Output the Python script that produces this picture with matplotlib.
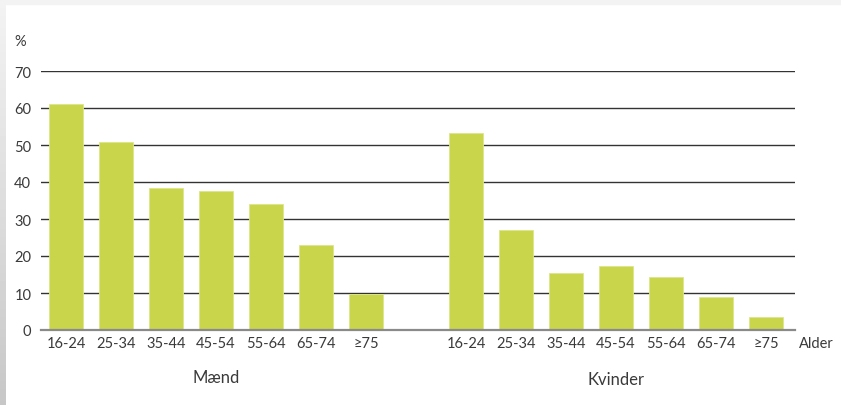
import matplotlib.pyplot as plt
import matplotlib.patches as mpatches
import numpy as np

# age groups and shares (%)
age_groups = ["16-24", "25-34", "35-44", "45-54", "55-64", "65-74", "≥75"]
men = [61.1, 50.8, 38.5, 37.5, 34.0, 23.0, 9.7]
women = [53.2, 27.0, 15.3, 17.2, 14.3, 8.8, 3.5]

bar_color = "#c9d54b"
text_color = "#3a3a3a"
plt.rcParams['font.family'] = ['Lato', 'DejaVu Sans']

fig = plt.figure(figsize=(8.41, 4.06), dpi=100)
fig.patch.set_facecolor("white")

# light grey frame strips like the page background
fig.patches.append(mpatches.Rectangle((0, 1 - 5 / 406), 1, 5 / 406, transform=fig.transFigure,
                                      color="#f3f3f3", zorder=0))
grad = np.linspace(0.95, 0.78, 100).reshape(-1, 1)
bg = fig.add_axes([0, 0, 6 / 841, 1 - 5 / 406])
bg.imshow(grad, cmap="gray", vmin=0, vmax=1, aspect="auto", extent=[0, 1, 0, 1])
bg.axis("off")

ax = fig.add_axes([41 / 841, 75 / 406, 754 / 841, 259 / 406])

x_men = np.arange(len(age_groups))
x_women = x_men + len(age_groups) + 1

ax.bar(x_men, men, width=0.68, color=bar_color, edgecolor="#dde68a", linewidth=0.6, zorder=3)
ax.bar(x_women, women, width=0.68, color=bar_color, edgecolor="#dde68a", linewidth=0.6, zorder=3)

ax.set_xlim(-0.5, 14.58)
ax.set_ylim(0, 70)
ax.set_yticks(range(0, 71, 10))
ax.yaxis.grid(True, color="#333333", linewidth=1.0, zorder=1)
ax.set_axisbelow(True)

ax.set_xticks(list(x_men) + list(x_women))
ax.set_xticklabels(age_groups + age_groups)
ax.tick_params(axis="both", length=0, labelsize=10.5, colors=text_color)
ax.tick_params(axis="y", pad=7)
ax.tick_params(axis="x", pad=4.5)

for side in ["top", "right", "left"]:
    ax.spines[side].set_visible(False)
ax.spines["bottom"].set_color("#8a8a8a")
ax.spines["bottom"].set_linewidth(1.6)
ax.spines["bottom"].set_zorder(4)

ax.text(-0.02, 1.115, "%", transform=ax.transAxes, ha="right", va="center",
        fontsize=10.5, color=text_color)
ax.text(14.65, -3.4, "Alder", ha="left", va="center", fontsize=10.5, color=text_color)
ax.text(x_men.mean(), -12.8, "Mænd", ha="center", va="center", fontsize=12, color=text_color)
ax.text(x_women.mean(), -13.3, "Kvinder", ha="center", va="center", fontsize=12, color=text_color)

fig.savefig("out.png", dpi=100)
